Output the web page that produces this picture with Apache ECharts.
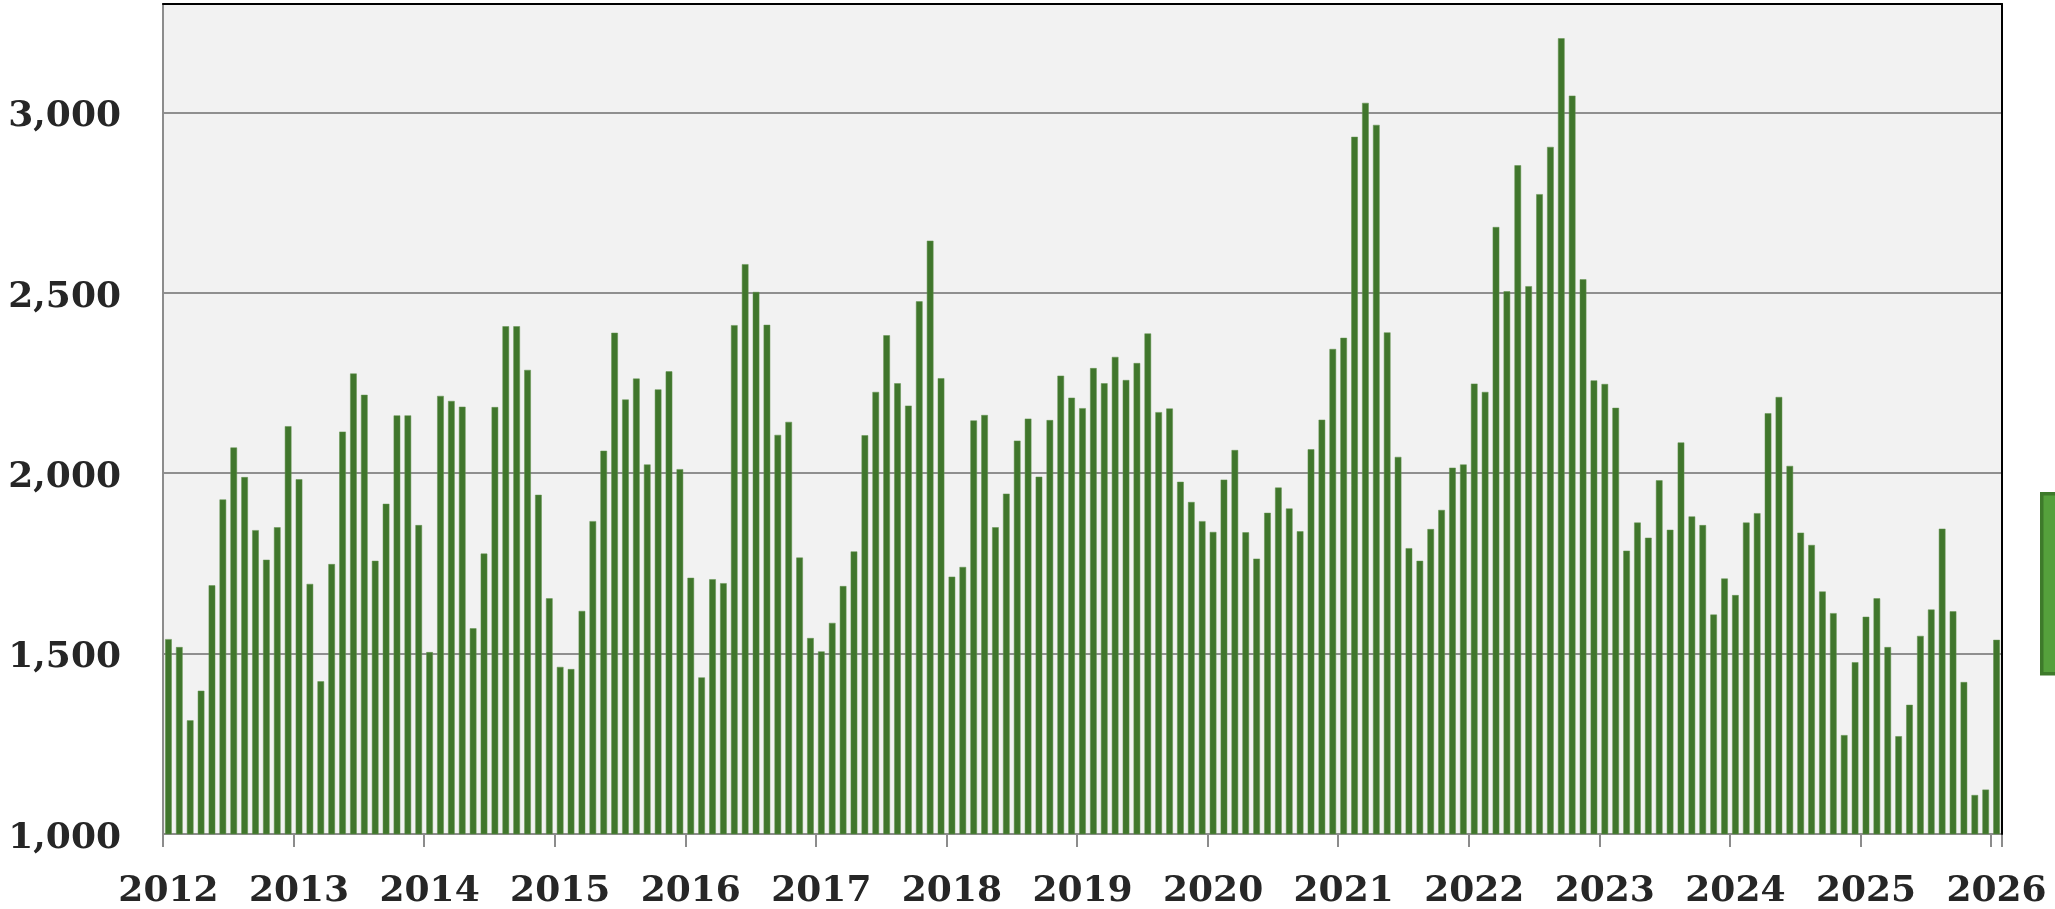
<!DOCTYPE html>
<html>
<head>
<meta charset="utf-8">
<script src="https://cdn.jsdelivr.net/npm/echarts@6/dist/echarts.min.js"></script>
<style>
html,body{margin:0;padding:0;background:#ffffff;}
#chart{width:2055px;height:909px;}
</style>
</head>
<body>
<div id="chart"></div>
<script>
// Year labels on the category axis
const years = [2012, 2013, 2014, 2015, 2016, 2017, 2018, 2019, 2020, 2021, 2022, 2023, 2024, 2025, 2026];

// Monthly values (Jan..Dec)
const v2012 = [1540, 1518, 1315, 1397, 1689, 1927, 2071, 1989, 1842, 1760, 1850, 2130];
const v2013 = [1983, 1693, 1423, 1748, 2115, 2276, 2217, 1757, 1915, 2160, 2160, 1856];
const v2014 = [1504, 2214, 2200, 2184, 1570, 1777, 2183, 2407, 2407, 2286, 1940, 1653];
const v2015 = [1463, 1457, 1618, 1867, 2062, 2389, 2204, 2262, 2024, 2232, 2282, 2011];
const v2016 = [1710, 1434, 1706, 1695, 2410, 2579, 2502, 2411, 2106, 2142, 1766, 1543];
const v2017 = [1506, 1585, 1687, 1783, 2105, 2225, 2382, 2249, 2187, 2476, 2644, 2263];
const v2018 = [1713, 1740, 2146, 2161, 1850, 1943, 2090, 2151, 1990, 2147, 2270, 2209];
const v2019 = [2180, 2291, 2249, 2322, 2258, 2305, 2387, 2169, 2179, 1976, 1920, 1867];
const v2020 = [1837, 1982, 2064, 1836, 1763, 1890, 1960, 1902, 1839, 2066, 2148, 2344];
const v2021 = [2375, 2932, 3026, 2965, 2390, 2045, 1792, 1757, 1845, 1898, 2015, 2024];
const v2022 = [2248, 2225, 2682, 2504, 2853, 2518, 2773, 2904, 3205, 3046, 2537, 2257];
const v2023 = [2247, 2181, 1785, 1863, 1821, 1980, 1843, 2085, 1880, 1856, 1608, 1708];
const v2024 = [1662, 1863, 1889, 2166, 2211, 2020, 1835, 1801, 1672, 1612, 1274, 1476];
const v2025 = [1602, 1653, 1518, 1271, 1358, 1549, 1622, 1846, 1617, 1421, 1108, 1123];
const v2026 = [1538];

// Y axis tick values
const yTicks = [1000, 1500, 2000, 2500, 3000];

const values = [].concat(v2012, v2013, v2014, v2015, v2016, v2017, v2018, v2019,
  v2020, v2021, v2022, v2023, v2024, v2025, v2026);

const categories = [];
years.forEach(function (y) {
  for (let m = 1; m <= 12; m++) {
    if (categories.length < values.length) {
      categories.push(y + '-' + (m < 10 ? '0' + m : m));
    }
  }
});

const fontFam = 'DejaVu Serif';
const gridLeft = 163, gridRight = 53, gridTop = 4, gridBottom = 75;

const chart = echarts.init(document.getElementById('chart'), null, { renderer: 'canvas' });
chart.setOption({
  animation: false,
  backgroundColor: '#ffffff',
  grid: {
    left: gridLeft, right: gridRight, top: gridTop, bottom: gridBottom,
    containLabel: false, outerBoundsMode: 'none',
    show: true, backgroundColor: '#f2f2f2', borderColor: '#000000', borderWidth: 0
  },
  legend: {
    show: true,
    left: 2040, top: 492,
    orient: 'vertical',
    icon: 'rect',
    itemWidth: 60, itemHeight: 180,
    itemGap: 0,
    padding: 0,
    formatter: function () { return ''; },
    itemStyle: { color: '#55a03c', borderColor: '#3e7a2b', borderWidth: 3.5 },
    data: ['Series']
  },
  xAxis: [{
    type: 'category',
    data: categories,
    boundaryGap: true,
    axisLine: { show: true, lineStyle: { color: '#8c8c8c', width: 2 } },
    axisTick: { show: true, interval: 11, length: 13, lineStyle: { color: '#8c8c8c', width: 2 } },
    axisLabel: {
      show: true, interval: 11, margin: 40,
      fontFamily: fontFam, fontWeight: 'bold', fontSize: 36, color: '#262626',
      formatter: function (val) { return val.slice(0, 4); }
    },
    splitLine: { show: false }
  }, {
    type: 'category',
    data: categories,
    position: 'top',
    z: 5,
    axisLine: { show: true, lineStyle: { color: '#000000', width: 2 } },
    axisTick: { show: false },
    axisLabel: { show: false },
    splitLine: { show: false }
  }],
  yAxis: [{
    type: 'value',
    min: yTicks[0], max: 3300, interval: 500,
    axisLine: { show: true, lineStyle: { color: '#8c8c8c', width: 2 } },
    axisTick: { show: false },
    axisLabel: {
      show: true, margin: 42, showMaxLabel: false,
      fontFamily: fontFam, fontWeight: 'bold', fontSize: 36, color: '#262626',
      formatter: function (v) {
        if (yTicks.indexOf(v) < 0) return '';
        return '{a|' + v.toLocaleString('en-US') + '}';
      },
      rich: {
        a: {
          fontFamily: fontFam, fontWeight: 'bold', fontSize: 36, color: '#262626',
          padding: [9, 0, 0, 0]
        }
      }
    },
    splitLine: { show: true, lineStyle: { color: '#8f8f8f', width: 2 } }
  }, {
    type: 'value',
    position: 'right',
    min: yTicks[0], max: 3300,
    z: 5,
    axisLine: { show: true, lineStyle: { color: '#000000', width: 2 } },
    axisTick: { show: false },
    axisLabel: { show: false },
    splitLine: { show: false }
  }],
  series: [{
    name: 'Series',
    type: 'bar',
    xAxisIndex: 0,
    yAxisIndex: 0,
    data: values,
    barWidth: 6.6,
    itemStyle: { color: '#40762c', borderColor: '#62924f', borderWidth: 0.5 },
    emphasis: { disabled: true }
  }]
});
</script>
</body>
</html>
